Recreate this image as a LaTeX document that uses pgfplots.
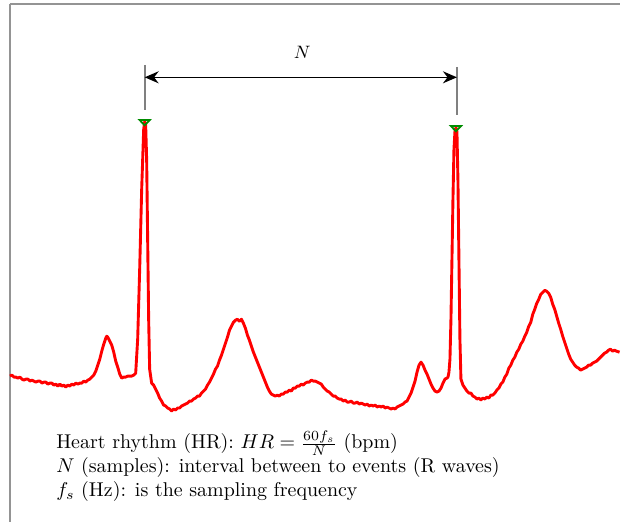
\documentclass[border=0pt]{standalone}
\usepackage{pgfplots}
\pgfplotsset{compat=1.18}
\usetikzlibrary{arrows.meta}

% ECG trace: sample index vs. amplitude (arbitrary units)
\pgfplotstableread{
x v
10 146
12 147
14 145
16 145
18 144
20 145
22 143
24 142
26 143
28 143
30 141
32 142
34 141
36 140
38 141
40 141
42 139
44 140
46 140
48 138
50 139
52 139
54 137
56 138
58 136
60 138
62 136
64 137
66 135
68 137
70 136
72 138
74 137
76 139
78 138
80 139
82 139
84 141
86 140
88 142
90 143
92 145
94 147
96 151
98 157
100 163
102 171
104 178
106 184
107 186
108 185
110 181
112 177
114 170
116 161
118 155
120 148
122 144
124 145
126 145
128 146
130 146
132 146
134 147
136 149
138 183
140 253
142 333
144 393
145 401
146 398
147 363
148 283
149 203
150 153
152 139
154 137
156 133
158 129
160 124
162 121
164 117
166 116
168 114
170 113
172 111
174 113
176 112
178 114
180 114
182 116
184 117
186 118
188 119
190 121
192 121
194 123
196 124
198 126
200 126
202 129
204 131
206 133
208 137
210 140
212 144
214 148
216 153
218 156
220 162
222 167
224 173
226 179
228 185
230 192
232 196
234 200
236 202
238 203
240 201
242 203
244 199
246 194
248 187
250 182
252 176
254 170
256 165
258 160
260 155
262 150
264 145
266 140
268 135
270 131
272 128
274 127
276 126
278 127
280 126
282 128
284 128
286 130
288 130
290 132
292 131
294 134
296 134
298 136
300 136
302 138
304 137
306 139
308 140
310 140
312 142
314 141
316 141
318 140
320 139
322 138
324 135
326 133
328 131
330 130
332 128
334 126
336 126
338 124
340 123
342 123
344 121
346 122
348 120
350 120
352 121
354 119
356 119
358 120
360 118
362 119
364 118
366 117
368 118
370 116
372 117
374 116
376 117
378 115
380 116
382 115
384 116
386 114
388 115
390 114
392 113
394 114
396 113
398 115
400 116
402 117
404 118
406 120
408 121
410 125
412 129
414 135
416 141
418 150
420 157
422 160
424 157
426 152
428 148
430 143
432 138
434 134
436 131
438 130
440 131
442 134
444 139
446 143
448 144
449 145
450 150
451 163
452 203
453 263
454 323
455 373
456 391
457 395
458 391
459 343
460 263
461 183
462 143
464 137
466 134
468 131
470 129
472 129
474 126
476 125
478 123
480 124
482 122
484 124
486 123
488 125
490 124
492 127
494 127
496 129
498 132
500 134
502 138
504 140
506 145
508 148
510 154
512 157
514 162
516 165
518 170
520 173
522 178
524 181
526 186
528 190
530 196
532 200
534 208
536 213
538 219
540 223
542 228
544 230
546 232
548 231
550 229
552 225
554 218
556 213
558 206
560 199
562 193
564 186
566 180
568 174
570 168
572 163
574 160
576 157
578 155
580 154
582 152
584 153
586 154
588 155
590 157
592 157
594 159
596 160
598 161
600 163
602 165
604 167
606 169
608 170
610 172
612 173
614 171
616 172
618 171
621 170
}\ecg

% detected R peaks
\pgfplotstableread{
x v
145 401
457 395
}\rpeaks

\begin{document}
\begin{tikzpicture}
\begin{axis}[
  scale only axis,
  width=305.5pt, height=259.5pt,
  xmin=10, xmax=621, ymin=0, ymax=519,
  axis x line*=top, axis y line*=left,
  axis line style={black!42, line width=1pt, -},
  ticks=none,
  clip=false,
]
\addplot[red, line width=1.45pt, line join=round] table[x=x, y=v] {\ecg};
\addplot[only marks, mark=triangle, mark size=3pt,
  mark options={rotate=180, yscale=0.6, draw=green!55!black, line width=0.9pt, fill=none}]
  table[x=x, y=v] {\rpeaks};

% interval between the two R waves
\draw[black!50, line width=0.9pt] (axis cs:145,458) -- (axis cs:145,413);
\draw[black!50, line width=0.9pt] (axis cs:458,456) -- (axis cs:458,408);
\draw[{Stealth[length=7pt,width=6pt]}-{Stealth[length=7pt,width=6pt]}, line width=0.8pt]
  (axis cs:145,445.5) -- (axis cs:458,445.5);
\node at (axis cs:303,471) {\small$N$};

\node[anchor=north west, align=left, inner sep=0pt] at (axis cs:56,92)
  {Heart rhythm (HR): $HR=\frac{60f_s}{N}$ (bpm)\\
   $N$ (samples): interval between to events (R waves)\\
   $f_s$ (Hz): is the sampling frequency};
\end{axis}
\path (current axis.south west) ++(-5pt,0);
\path (current axis.north west) ++(0,2pt);
\end{tikzpicture}
\end{document}
